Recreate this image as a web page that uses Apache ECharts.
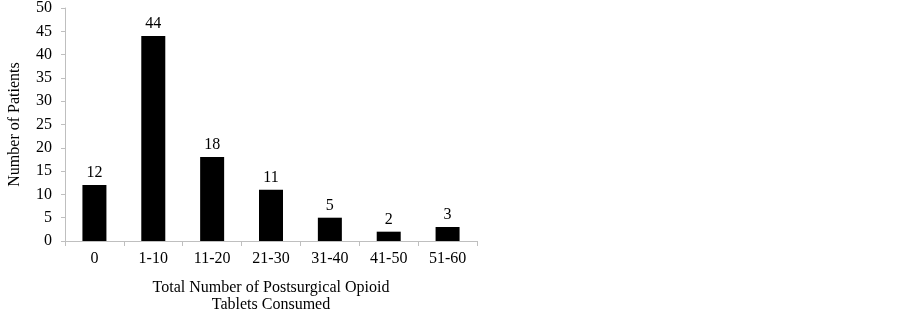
<!DOCTYPE html>
<html><head><meta charset="utf-8">
<script src="https://cdn.jsdelivr.net/npm/echarts@6/dist/echarts.min.js"></script>
<style>html,body{margin:0;padding:0;background:#fff}#c{width:903px;height:318px}</style>
</head><body><div id="c"></div>
<script>
const categories = ['0','1-10','11-20','21-30','31-40','41-50','51-60'];
const patients = [12,44,18,11,5,2,3];
const yTicks = [0,5,10,15,20,25,30,35,40,45,50];

const font = 'Liberation Serif, Times New Roman, serif';
const chart = echarts.init(document.getElementById('c'));
chart.setOption({
  animation:false,
  grid:{left:65,top:8,width:412,height:235,containLabel:false},
  xAxis:{type:'category',data:categories,boundaryGap:true,
    axisLine:{lineStyle:{color:'#bfbfbf'}},
    axisTick:{show:true,length:5,alignWithLabel:false,lineStyle:{color:'#bfbfbf'}},
    axisLabel:{color:'#000',fontFamily:font,fontSize:16,margin:10},
    name:'Total Number of Postsurgical Opioid\nTablets Consumed',
    nameLocation:'middle',nameGap:38,
    nameTextStyle:{color:'#000',fontFamily:font,fontSize:16,lineHeight:17,verticalAlign:'top'}
  },
  yAxis:{type:'value',min:0,max:50,interval:5,
    axisLine:{show:true,lineStyle:{color:'#bfbfbf'}},
    axisTick:{show:true,length:4,lineStyle:{color:'#bfbfbf'}},
    splitLine:{show:false},
    axisLabel:{color:'#000',fontFamily:font,fontSize:16,margin:13,
      formatter:v=>yTicks.includes(v)?String(v):''},
    name:'Number of Patients',nameLocation:'middle',nameGap:50,
    nameTextStyle:{color:'#000',fontFamily:font,fontSize:16,verticalAlign:'middle'}
  },
  series:[{type:'bar',data:patients,barWidth:24,
    itemStyle:{color:'#000'},
    label:{show:true,position:'top',color:'#000',fontFamily:font,fontSize:16,distance:4}
  }]
});
</script></body></html>
